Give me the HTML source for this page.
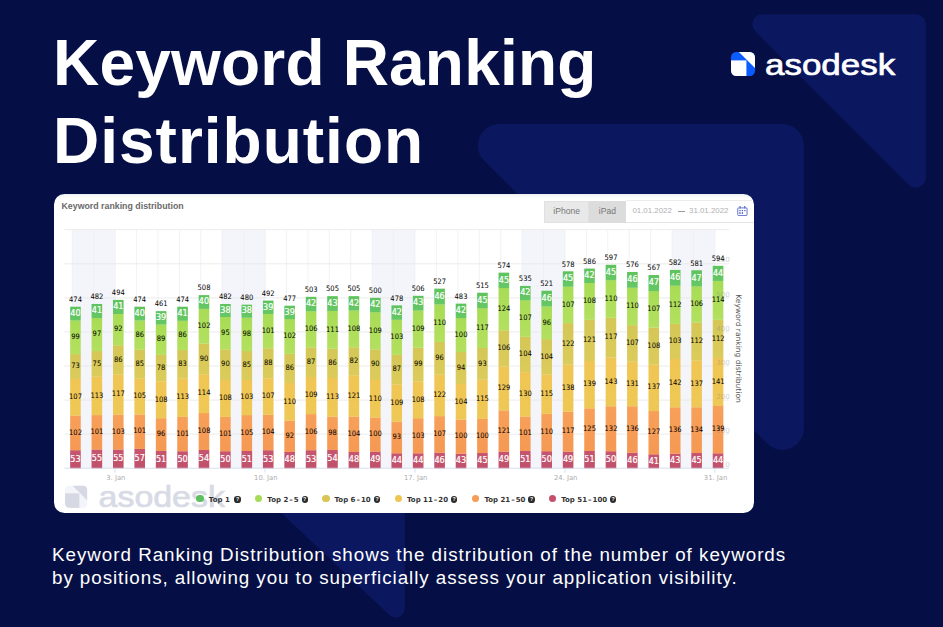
<!DOCTYPE html>
<html lang="en"><head><meta charset="utf-8"><title>Keyword Ranking Distribution</title>
<style>
html,body{margin:0;padding:0}
body{width:943px;height:627px;overflow:hidden;background:#050f45;position:relative;font-family:"Liberation Sans",Arial,sans-serif}
.bg{position:absolute;left:0;top:0}
h1{position:absolute;left:53px;top:23.5px;margin:0;font-size:64px;line-height:78px;font-weight:700;color:#fff;letter-spacing:.2px;white-space:nowrap}
h1 span{letter-spacing:1px}
.logo{position:absolute;left:730.6px;top:51.6px;width:24px;height:24px}
.brand{position:absolute;left:764.9px;top:41.5px;font-size:30.4px;line-height:44px;color:#fff;white-space:nowrap;-webkit-text-stroke:0.7px #fff;transform-origin:0 0;transform:scaleX(1.15)}
.card{position:absolute;left:54.4px;top:193.8px;width:699.4px;height:319.6px;background:linear-gradient(#eceef2 0,#f8f9fa 2px,#fff 5px);border-radius:10.5px}
.chart{position:absolute;left:0;top:0}
.ctitle{position:absolute;left:61.5px;top:200px;font-size:8.8px;line-height:12px;font-weight:700;color:#6a6a6a;white-space:nowrap}
.btns{position:absolute;left:544px;top:200.5px;height:22px;width:81.6px;background:#dcdcdc}
.b1{position:absolute;left:0;top:0;width:45.3px;height:22px;background:#e9e9e9;box-shadow:inset 0 0 0 1px #e1e1e1;}
.btns span{position:absolute;top:0;line-height:21.5px;font-size:8.6px;color:#777;text-align:center}
.dline{position:absolute;left:625.6px;top:222px;width:128.2px;height:1px;background:#e4e4e4}
.dline2{position:absolute;left:625.6px;top:200.2px;width:126.6px;height:1px;background:#ececec}
.date{position:absolute;top:205px;font-size:7.9px;line-height:12px;color:#b0b0b0;white-space:nowrap}
.cal{position:absolute;left:736.8px;top:205.6px;width:11px;height:10.4px}
.lb .k{fill:#000}
.lb .w{fill:#fff;font-weight:700;font-size:6.9px}
.wm{position:absolute;left:0;top:0}
.dot{position:absolute;top:494.6px;width:7.8px;height:7.8px;border-radius:50%}
.lt{position:absolute;top:493.7px;font-size:7px;line-height:12px;font-weight:700;color:#333;white-space:nowrap;font-family:"DejaVu Sans","Liberation Sans",sans-serif}
.lt i{font-style:normal;padding:0 1px}
.q{position:absolute;top:496.4px;width:6.2px;height:6.2px;border-radius:50%;background:#2b2b2b;color:#fff;font-size:5.2px;line-height:6.4px;text-align:center;font-weight:700}
.desc{position:absolute;left:52px;top:544.2px;margin:0;font-size:18.8px;line-height:22.4px;color:#fff;white-space:nowrap;letter-spacing:.98px}
.desc span{letter-spacing:.94px}
</style></head><body>
<svg class="bg" width="943" height="627" viewBox="0 0 943 627">
<g fill="#0b1860" stroke="#0b1860" stroke-linejoin="round">
<path stroke-width="20" d="M762.3 24.3 L915.8 24.3 L915.8 177.8 Z"/>
<path stroke-width="43" d="M499.4 145.5 L782.3 145.5 L782.3 428.4 Z"/>
<path stroke-width="18" d="M230 452 L395.8 452 L395.8 608.6 Z"/>
</g></svg>
<h1>Keyword Ranking<br><span>Distribution</span></h1>
<svg class="logo" viewBox="0 0 24 24"><defs><clipPath id="lc"><rect width="24" height="24" rx="5.2"/></clipPath></defs>
<g clip-path="url(#lc)"><rect width="24" height="24" fill="#0b5cff"/><rect x="0" y="8.4" width="15.4" height="15.6" fill="#fff"/><path d="M7.9 0H24V16.1Z" fill="#fff"/></g></svg>
<div class="brand">asodesk</div>
<div class="card"></div>
<svg class="wm" width="943" height="627" viewBox="0 0 943 627"><defs><clipPath id="wc"><rect x="65" y="485.5" width="22.4" height="22.4" rx="4.6"/></clipPath></defs>
<g clip-path="url(#wc)"><rect x="65" y="485.5" width="22.4" height="22.4" fill="#f3f5fb"/><rect x="65" y="493.3" width="14.4" height="14.6" fill="#d6d9e3"/><path d="M72.4 485.5H87.4V500.5Z" fill="#d6d9e3"/></g>
<text transform="translate(98.6,507) scale(1.13,1)" font-size="30" fill="#d8dbe5" font-family="Liberation Sans, Arial, sans-serif" stroke="#d8dbe5" stroke-width=".7">asodesk</text></svg>
<svg class="chart" width="943" height="627" viewBox="0 0 943 627">
<defs>
<linearGradient id="g0" x1="0" y1="0" x2="0" y2="1"><stop offset="0" stop-color="#c6556f"/><stop offset="1" stop-color="#c1506a"/></linearGradient>
<linearGradient id="g1" x1="0" y1="0" x2="0" y2="1"><stop offset="0" stop-color="#f7a059"/><stop offset="1" stop-color="#f59953"/></linearGradient>
<linearGradient id="g2" x1="0" y1="0" x2="0" y2="1"><stop offset="0" stop-color="#f0c553"/><stop offset="1" stop-color="#eec856"/></linearGradient>
<linearGradient id="g3" x1="0" y1="0" x2="0" y2="1"><stop offset="0" stop-color="#d4c756"/><stop offset="1" stop-color="#dbcb5b"/></linearGradient>
<linearGradient id="g4" x1="0" y1="0" x2="0" y2="1"><stop offset="0" stop-color="#a8dc55"/><stop offset="1" stop-color="#b3e05f"/></linearGradient>
<linearGradient id="g5" x1="0" y1="0" x2="0" y2="1"><stop offset="0" stop-color="#5ec35d"/><stop offset="1" stop-color="#66c765"/></linearGradient>
</defs>
<rect x="72.3" y="229.7" width="42.8" height="238.5" fill="#f4f5fa"/>
<rect x="222.2" y="229.7" width="42.8" height="238.5" fill="#f4f5fa"/>
<rect x="372.2" y="229.7" width="42.8" height="238.5" fill="#f4f5fa"/>
<rect x="522.1" y="229.7" width="42.8" height="238.5" fill="#f4f5fa"/>
<rect x="672.1" y="229.7" width="42.8" height="238.5" fill="#f4f5fa"/>
<line x1="72.3" y1="229.7" x2="72.3" y2="468.2" stroke="#ececf0" stroke-width="0.7"/>
<line x1="93.7" y1="229.7" x2="93.7" y2="468.2" stroke="#ececf0" stroke-width="0.7"/>
<line x1="115.1" y1="229.7" x2="115.1" y2="468.2" stroke="#ececf0" stroke-width="0.7"/>
<line x1="136.6" y1="229.7" x2="136.6" y2="468.2" stroke="#ececf0" stroke-width="0.7"/>
<line x1="158.0" y1="229.7" x2="158.0" y2="468.2" stroke="#ececf0" stroke-width="0.7"/>
<line x1="179.4" y1="229.7" x2="179.4" y2="468.2" stroke="#ececf0" stroke-width="0.7"/>
<line x1="200.8" y1="229.7" x2="200.8" y2="468.2" stroke="#ececf0" stroke-width="0.7"/>
<line x1="222.2" y1="229.7" x2="222.2" y2="468.2" stroke="#ececf0" stroke-width="0.7"/>
<line x1="243.7" y1="229.7" x2="243.7" y2="468.2" stroke="#ececf0" stroke-width="0.7"/>
<line x1="265.1" y1="229.7" x2="265.1" y2="468.2" stroke="#ececf0" stroke-width="0.7"/>
<line x1="286.5" y1="229.7" x2="286.5" y2="468.2" stroke="#ececf0" stroke-width="0.7"/>
<line x1="307.9" y1="229.7" x2="307.9" y2="468.2" stroke="#ececf0" stroke-width="0.7"/>
<line x1="329.3" y1="229.7" x2="329.3" y2="468.2" stroke="#ececf0" stroke-width="0.7"/>
<line x1="350.8" y1="229.7" x2="350.8" y2="468.2" stroke="#ececf0" stroke-width="0.7"/>
<line x1="372.2" y1="229.7" x2="372.2" y2="468.2" stroke="#ececf0" stroke-width="0.7"/>
<line x1="393.6" y1="229.7" x2="393.6" y2="468.2" stroke="#ececf0" stroke-width="0.7"/>
<line x1="415.0" y1="229.7" x2="415.0" y2="468.2" stroke="#ececf0" stroke-width="0.7"/>
<line x1="436.4" y1="229.7" x2="436.4" y2="468.2" stroke="#ececf0" stroke-width="0.7"/>
<line x1="457.9" y1="229.7" x2="457.9" y2="468.2" stroke="#ececf0" stroke-width="0.7"/>
<line x1="479.3" y1="229.7" x2="479.3" y2="468.2" stroke="#ececf0" stroke-width="0.7"/>
<line x1="500.7" y1="229.7" x2="500.7" y2="468.2" stroke="#ececf0" stroke-width="0.7"/>
<line x1="522.1" y1="229.7" x2="522.1" y2="468.2" stroke="#ececf0" stroke-width="0.7"/>
<line x1="543.5" y1="229.7" x2="543.5" y2="468.2" stroke="#ececf0" stroke-width="0.7"/>
<line x1="565.0" y1="229.7" x2="565.0" y2="468.2" stroke="#ececf0" stroke-width="0.7"/>
<line x1="586.4" y1="229.7" x2="586.4" y2="468.2" stroke="#ececf0" stroke-width="0.7"/>
<line x1="607.8" y1="229.7" x2="607.8" y2="468.2" stroke="#ececf0" stroke-width="0.7"/>
<line x1="629.2" y1="229.7" x2="629.2" y2="468.2" stroke="#ececf0" stroke-width="0.7"/>
<line x1="650.6" y1="229.7" x2="650.6" y2="468.2" stroke="#ececf0" stroke-width="0.7"/>
<line x1="672.1" y1="229.7" x2="672.1" y2="468.2" stroke="#ececf0" stroke-width="0.7"/>
<line x1="693.5" y1="229.7" x2="693.5" y2="468.2" stroke="#ececf0" stroke-width="0.7"/>
<line x1="714.9" y1="229.7" x2="714.9" y2="468.2" stroke="#ececf0" stroke-width="0.7"/>
<line x1="64.4" y1="434.1" x2="729.0" y2="434.1" stroke="#e6e6e6" stroke-width="0.8"/>
<line x1="64.4" y1="400.1" x2="729.0" y2="400.1" stroke="#e6e6e6" stroke-width="0.8"/>
<line x1="64.4" y1="366.0" x2="729.0" y2="366.0" stroke="#e6e6e6" stroke-width="0.8"/>
<line x1="64.4" y1="331.9" x2="729.0" y2="331.9" stroke="#e6e6e6" stroke-width="0.8"/>
<line x1="64.4" y1="297.9" x2="729.0" y2="297.9" stroke="#e6e6e6" stroke-width="0.8"/>
<line x1="64.4" y1="263.8" x2="729.0" y2="263.8" stroke="#e6e6e6" stroke-width="0.8"/>
<line x1="64.4" y1="229.7" x2="729.0" y2="229.7" stroke="#e6e6e6" stroke-width="0.8"/>
<rect x="70.15" y="450.14" width="10.6" height="18.21" fill="url(#g0)"/>
<rect x="70.15" y="415.39" width="10.6" height="34.90" fill="url(#g1)"/>
<rect x="70.15" y="378.94" width="10.6" height="36.60" fill="url(#g2)"/>
<rect x="70.15" y="354.07" width="10.6" height="25.02" fill="url(#g3)"/>
<rect x="70.15" y="320.34" width="10.6" height="33.88" fill="url(#g4)"/>
<rect x="70.15" y="306.71" width="10.6" height="13.78" fill="url(#g5)"/>
<rect x="91.57" y="449.46" width="10.6" height="18.89" fill="url(#g0)"/>
<rect x="91.57" y="415.05" width="10.6" height="34.56" fill="url(#g1)"/>
<rect x="91.57" y="376.55" width="10.6" height="38.65" fill="url(#g2)"/>
<rect x="91.57" y="351.00" width="10.6" height="25.70" fill="url(#g3)"/>
<rect x="91.57" y="317.95" width="10.6" height="33.20" fill="url(#g4)"/>
<rect x="91.57" y="303.98" width="10.6" height="14.12" fill="url(#g5)"/>
<rect x="112.99" y="449.46" width="10.6" height="18.89" fill="url(#g0)"/>
<rect x="112.99" y="414.37" width="10.6" height="35.24" fill="url(#g1)"/>
<rect x="112.99" y="374.51" width="10.6" height="40.01" fill="url(#g2)"/>
<rect x="112.99" y="345.21" width="10.6" height="29.45" fill="url(#g3)"/>
<rect x="112.99" y="313.86" width="10.6" height="31.49" fill="url(#g4)"/>
<rect x="112.99" y="299.89" width="10.6" height="14.12" fill="url(#g5)"/>
<rect x="134.41" y="448.78" width="10.6" height="19.57" fill="url(#g0)"/>
<rect x="134.41" y="414.37" width="10.6" height="34.56" fill="url(#g1)"/>
<rect x="134.41" y="378.60" width="10.6" height="35.92" fill="url(#g2)"/>
<rect x="134.41" y="349.64" width="10.6" height="29.11" fill="url(#g3)"/>
<rect x="134.41" y="320.34" width="10.6" height="29.45" fill="url(#g4)"/>
<rect x="134.41" y="306.71" width="10.6" height="13.78" fill="url(#g5)"/>
<rect x="155.83" y="450.82" width="10.6" height="17.53" fill="url(#g0)"/>
<rect x="155.83" y="418.12" width="10.6" height="32.86" fill="url(#g1)"/>
<rect x="155.83" y="381.32" width="10.6" height="36.95" fill="url(#g2)"/>
<rect x="155.83" y="354.75" width="10.6" height="26.72" fill="url(#g3)"/>
<rect x="155.83" y="324.42" width="10.6" height="30.47" fill="url(#g4)"/>
<rect x="155.83" y="311.14" width="10.6" height="13.44" fill="url(#g5)"/>
<rect x="177.25" y="451.16" width="10.6" height="17.18" fill="url(#g0)"/>
<rect x="177.25" y="416.75" width="10.6" height="34.56" fill="url(#g1)"/>
<rect x="177.25" y="378.26" width="10.6" height="38.65" fill="url(#g2)"/>
<rect x="177.25" y="349.98" width="10.6" height="28.43" fill="url(#g3)"/>
<rect x="177.25" y="320.68" width="10.6" height="29.45" fill="url(#g4)"/>
<rect x="177.25" y="306.71" width="10.6" height="14.12" fill="url(#g5)"/>
<rect x="198.67" y="449.80" width="10.6" height="18.55" fill="url(#g0)"/>
<rect x="198.67" y="413.01" width="10.6" height="36.95" fill="url(#g1)"/>
<rect x="198.67" y="374.17" width="10.6" height="38.99" fill="url(#g2)"/>
<rect x="198.67" y="343.50" width="10.6" height="30.81" fill="url(#g3)"/>
<rect x="198.67" y="308.75" width="10.6" height="34.90" fill="url(#g4)"/>
<rect x="198.67" y="295.12" width="10.6" height="13.78" fill="url(#g5)"/>
<rect x="220.09" y="451.16" width="10.6" height="17.18" fill="url(#g0)"/>
<rect x="220.09" y="416.75" width="10.6" height="34.56" fill="url(#g1)"/>
<rect x="220.09" y="379.96" width="10.6" height="36.95" fill="url(#g2)"/>
<rect x="220.09" y="349.30" width="10.6" height="30.81" fill="url(#g3)"/>
<rect x="220.09" y="316.93" width="10.6" height="32.52" fill="url(#g4)"/>
<rect x="220.09" y="303.98" width="10.6" height="13.10" fill="url(#g5)"/>
<rect x="241.51" y="450.82" width="10.6" height="17.53" fill="url(#g0)"/>
<rect x="241.51" y="415.05" width="10.6" height="35.92" fill="url(#g1)"/>
<rect x="241.51" y="379.96" width="10.6" height="35.24" fill="url(#g2)"/>
<rect x="241.51" y="351.00" width="10.6" height="29.11" fill="url(#g3)"/>
<rect x="241.51" y="317.61" width="10.6" height="33.54" fill="url(#g4)"/>
<rect x="241.51" y="304.66" width="10.6" height="13.10" fill="url(#g5)"/>
<rect x="262.93" y="450.14" width="10.6" height="18.21" fill="url(#g0)"/>
<rect x="262.93" y="414.71" width="10.6" height="35.58" fill="url(#g1)"/>
<rect x="262.93" y="378.26" width="10.6" height="36.60" fill="url(#g2)"/>
<rect x="262.93" y="348.27" width="10.6" height="30.13" fill="url(#g3)"/>
<rect x="262.93" y="313.86" width="10.6" height="34.56" fill="url(#g4)"/>
<rect x="262.93" y="300.58" width="10.6" height="13.44" fill="url(#g5)"/>
<rect x="284.35" y="451.85" width="10.6" height="16.50" fill="url(#g0)"/>
<rect x="284.35" y="420.50" width="10.6" height="31.49" fill="url(#g1)"/>
<rect x="284.35" y="383.02" width="10.6" height="37.63" fill="url(#g2)"/>
<rect x="284.35" y="353.72" width="10.6" height="29.45" fill="url(#g3)"/>
<rect x="284.35" y="318.97" width="10.6" height="34.90" fill="url(#g4)"/>
<rect x="284.35" y="305.69" width="10.6" height="13.44" fill="url(#g5)"/>
<rect x="305.77" y="450.14" width="10.6" height="18.21" fill="url(#g0)"/>
<rect x="305.77" y="414.03" width="10.6" height="36.26" fill="url(#g1)"/>
<rect x="305.77" y="376.89" width="10.6" height="37.29" fill="url(#g2)"/>
<rect x="305.77" y="347.25" width="10.6" height="29.79" fill="url(#g3)"/>
<rect x="305.77" y="311.14" width="10.6" height="36.26" fill="url(#g4)"/>
<rect x="305.77" y="296.83" width="10.6" height="14.46" fill="url(#g5)"/>
<rect x="327.19" y="449.80" width="10.6" height="18.55" fill="url(#g0)"/>
<rect x="327.19" y="416.41" width="10.6" height="33.54" fill="url(#g1)"/>
<rect x="327.19" y="377.91" width="10.6" height="38.65" fill="url(#g2)"/>
<rect x="327.19" y="348.61" width="10.6" height="29.45" fill="url(#g3)"/>
<rect x="327.19" y="310.80" width="10.6" height="37.97" fill="url(#g4)"/>
<rect x="327.19" y="296.15" width="10.6" height="14.80" fill="url(#g5)"/>
<rect x="348.61" y="451.85" width="10.6" height="16.50" fill="url(#g0)"/>
<rect x="348.61" y="416.41" width="10.6" height="35.58" fill="url(#g1)"/>
<rect x="348.61" y="375.19" width="10.6" height="41.37" fill="url(#g2)"/>
<rect x="348.61" y="347.25" width="10.6" height="28.09" fill="url(#g3)"/>
<rect x="348.61" y="310.46" width="10.6" height="36.95" fill="url(#g4)"/>
<rect x="348.61" y="296.15" width="10.6" height="14.46" fill="url(#g5)"/>
<rect x="370.03" y="451.51" width="10.6" height="16.84" fill="url(#g0)"/>
<rect x="370.03" y="417.44" width="10.6" height="34.22" fill="url(#g1)"/>
<rect x="370.03" y="379.96" width="10.6" height="37.63" fill="url(#g2)"/>
<rect x="370.03" y="349.30" width="10.6" height="30.81" fill="url(#g3)"/>
<rect x="370.03" y="312.16" width="10.6" height="37.29" fill="url(#g4)"/>
<rect x="370.03" y="297.85" width="10.6" height="14.46" fill="url(#g5)"/>
<rect x="391.45" y="453.21" width="10.6" height="15.14" fill="url(#g0)"/>
<rect x="391.45" y="421.52" width="10.6" height="31.84" fill="url(#g1)"/>
<rect x="391.45" y="384.39" width="10.6" height="37.29" fill="url(#g2)"/>
<rect x="391.45" y="354.75" width="10.6" height="29.79" fill="url(#g3)"/>
<rect x="391.45" y="319.65" width="10.6" height="35.24" fill="url(#g4)"/>
<rect x="391.45" y="305.35" width="10.6" height="14.46" fill="url(#g5)"/>
<rect x="412.87" y="453.21" width="10.6" height="15.14" fill="url(#g0)"/>
<rect x="412.87" y="418.12" width="10.6" height="35.24" fill="url(#g1)"/>
<rect x="412.87" y="381.32" width="10.6" height="36.95" fill="url(#g2)"/>
<rect x="412.87" y="347.59" width="10.6" height="33.88" fill="url(#g3)"/>
<rect x="412.87" y="310.46" width="10.6" height="37.29" fill="url(#g4)"/>
<rect x="412.87" y="295.81" width="10.6" height="14.80" fill="url(#g5)"/>
<rect x="434.29" y="452.53" width="10.6" height="15.82" fill="url(#g0)"/>
<rect x="434.29" y="416.07" width="10.6" height="36.60" fill="url(#g1)"/>
<rect x="434.29" y="374.51" width="10.6" height="41.72" fill="url(#g2)"/>
<rect x="434.29" y="341.80" width="10.6" height="32.86" fill="url(#g3)"/>
<rect x="434.29" y="304.32" width="10.6" height="37.63" fill="url(#g4)"/>
<rect x="434.29" y="288.65" width="10.6" height="15.82" fill="url(#g5)"/>
<rect x="455.71" y="453.55" width="10.6" height="14.80" fill="url(#g0)"/>
<rect x="455.71" y="419.48" width="10.6" height="34.22" fill="url(#g1)"/>
<rect x="455.71" y="384.05" width="10.6" height="35.58" fill="url(#g2)"/>
<rect x="455.71" y="352.02" width="10.6" height="32.18" fill="url(#g3)"/>
<rect x="455.71" y="317.95" width="10.6" height="34.22" fill="url(#g4)"/>
<rect x="455.71" y="303.64" width="10.6" height="14.46" fill="url(#g5)"/>
<rect x="477.13" y="452.87" width="10.6" height="15.48" fill="url(#g0)"/>
<rect x="477.13" y="418.80" width="10.6" height="34.22" fill="url(#g1)"/>
<rect x="477.13" y="379.62" width="10.6" height="39.33" fill="url(#g2)"/>
<rect x="477.13" y="347.93" width="10.6" height="31.84" fill="url(#g3)"/>
<rect x="477.13" y="308.07" width="10.6" height="40.01" fill="url(#g4)"/>
<rect x="477.13" y="292.74" width="10.6" height="15.48" fill="url(#g5)"/>
<rect x="498.55" y="451.51" width="10.6" height="16.84" fill="url(#g0)"/>
<rect x="498.55" y="410.28" width="10.6" height="41.37" fill="url(#g1)"/>
<rect x="498.55" y="366.33" width="10.6" height="44.10" fill="url(#g2)"/>
<rect x="498.55" y="330.22" width="10.6" height="36.26" fill="url(#g3)"/>
<rect x="498.55" y="287.97" width="10.6" height="42.40" fill="url(#g4)"/>
<rect x="498.55" y="272.64" width="10.6" height="15.48" fill="url(#g5)"/>
<rect x="519.97" y="450.82" width="10.6" height="17.53" fill="url(#g0)"/>
<rect x="519.97" y="416.41" width="10.6" height="34.56" fill="url(#g1)"/>
<rect x="519.97" y="372.12" width="10.6" height="44.44" fill="url(#g2)"/>
<rect x="519.97" y="336.69" width="10.6" height="35.58" fill="url(#g3)"/>
<rect x="519.97" y="300.23" width="10.6" height="36.60" fill="url(#g4)"/>
<rect x="519.97" y="285.93" width="10.6" height="14.46" fill="url(#g5)"/>
<rect x="541.39" y="451.16" width="10.6" height="17.18" fill="url(#g0)"/>
<rect x="541.39" y="413.69" width="10.6" height="37.63" fill="url(#g1)"/>
<rect x="541.39" y="374.51" width="10.6" height="39.33" fill="url(#g2)"/>
<rect x="541.39" y="339.07" width="10.6" height="35.58" fill="url(#g3)"/>
<rect x="541.39" y="306.37" width="10.6" height="32.86" fill="url(#g4)"/>
<rect x="541.39" y="290.70" width="10.6" height="15.82" fill="url(#g5)"/>
<rect x="562.81" y="451.51" width="10.6" height="16.84" fill="url(#g0)"/>
<rect x="562.81" y="411.64" width="10.6" height="40.01" fill="url(#g1)"/>
<rect x="562.81" y="364.63" width="10.6" height="47.17" fill="url(#g2)"/>
<rect x="562.81" y="323.06" width="10.6" height="41.72" fill="url(#g3)"/>
<rect x="562.81" y="286.61" width="10.6" height="36.60" fill="url(#g4)"/>
<rect x="562.81" y="271.28" width="10.6" height="15.48" fill="url(#g5)"/>
<rect x="584.23" y="450.82" width="10.6" height="17.53" fill="url(#g0)"/>
<rect x="584.23" y="408.24" width="10.6" height="42.74" fill="url(#g1)"/>
<rect x="584.23" y="360.88" width="10.6" height="47.51" fill="url(#g2)"/>
<rect x="584.23" y="319.65" width="10.6" height="41.37" fill="url(#g3)"/>
<rect x="584.23" y="282.86" width="10.6" height="36.95" fill="url(#g4)"/>
<rect x="584.23" y="268.55" width="10.6" height="14.46" fill="url(#g5)"/>
<rect x="605.65" y="451.16" width="10.6" height="17.18" fill="url(#g0)"/>
<rect x="605.65" y="406.19" width="10.6" height="45.12" fill="url(#g1)"/>
<rect x="605.65" y="357.47" width="10.6" height="48.87" fill="url(#g2)"/>
<rect x="605.65" y="317.61" width="10.6" height="40.01" fill="url(#g3)"/>
<rect x="605.65" y="280.13" width="10.6" height="37.63" fill="url(#g4)"/>
<rect x="605.65" y="264.80" width="10.6" height="15.48" fill="url(#g5)"/>
<rect x="627.07" y="452.53" width="10.6" height="15.82" fill="url(#g0)"/>
<rect x="627.07" y="406.19" width="10.6" height="46.49" fill="url(#g1)"/>
<rect x="627.07" y="361.56" width="10.6" height="44.78" fill="url(#g2)"/>
<rect x="627.07" y="325.11" width="10.6" height="36.60" fill="url(#g3)"/>
<rect x="627.07" y="287.63" width="10.6" height="37.63" fill="url(#g4)"/>
<rect x="627.07" y="271.96" width="10.6" height="15.82" fill="url(#g5)"/>
<rect x="648.49" y="454.23" width="10.6" height="14.12" fill="url(#g0)"/>
<rect x="648.49" y="410.96" width="10.6" height="43.42" fill="url(#g1)"/>
<rect x="648.49" y="364.29" width="10.6" height="46.83" fill="url(#g2)"/>
<rect x="648.49" y="327.49" width="10.6" height="36.95" fill="url(#g3)"/>
<rect x="648.49" y="291.04" width="10.6" height="36.60" fill="url(#g4)"/>
<rect x="648.49" y="275.02" width="10.6" height="16.16" fill="url(#g5)"/>
<rect x="669.91" y="453.55" width="10.6" height="14.80" fill="url(#g0)"/>
<rect x="669.91" y="407.21" width="10.6" height="46.49" fill="url(#g1)"/>
<rect x="669.91" y="358.84" width="10.6" height="48.53" fill="url(#g2)"/>
<rect x="669.91" y="323.74" width="10.6" height="35.24" fill="url(#g3)"/>
<rect x="669.91" y="285.58" width="10.6" height="38.31" fill="url(#g4)"/>
<rect x="669.91" y="269.91" width="10.6" height="15.82" fill="url(#g5)"/>
<rect x="691.33" y="452.87" width="10.6" height="15.48" fill="url(#g0)"/>
<rect x="691.33" y="407.21" width="10.6" height="45.80" fill="url(#g1)"/>
<rect x="691.33" y="360.54" width="10.6" height="46.83" fill="url(#g2)"/>
<rect x="691.33" y="322.38" width="10.6" height="38.31" fill="url(#g3)"/>
<rect x="691.33" y="286.27" width="10.6" height="36.26" fill="url(#g4)"/>
<rect x="691.33" y="270.25" width="10.6" height="16.16" fill="url(#g5)"/>
<rect x="712.75" y="453.21" width="10.6" height="15.14" fill="url(#g0)"/>
<rect x="712.75" y="405.85" width="10.6" height="47.51" fill="url(#g1)"/>
<rect x="712.75" y="357.81" width="10.6" height="48.19" fill="url(#g2)"/>
<rect x="712.75" y="319.65" width="10.6" height="38.31" fill="url(#g3)"/>
<rect x="712.75" y="280.82" width="10.6" height="38.99" fill="url(#g4)"/>
<rect x="712.75" y="265.82" width="10.6" height="15.14" fill="url(#g5)"/>
<line x1="64.4" y1="468.2" x2="729.0" y2="468.2" stroke="#ccd6eb" stroke-width="0.8"/>
<line x1="115.1" y1="468.2" x2="115.1" y2="472.7" stroke="#ccd6eb" stroke-width="0.8"/>
<line x1="265.1" y1="468.2" x2="265.1" y2="472.7" stroke="#ccd6eb" stroke-width="0.8"/>
<line x1="415.0" y1="468.2" x2="415.0" y2="472.7" stroke="#ccd6eb" stroke-width="0.8"/>
<line x1="565.0" y1="468.2" x2="565.0" y2="472.7" stroke="#ccd6eb" stroke-width="0.8"/>
<line x1="714.9" y1="468.2" x2="714.9" y2="472.7" stroke="#ccd6eb" stroke-width="0.8"/>
<g font-size="6.8" fill="#adadad" text-anchor="middle" font-family="DejaVu Sans, Liberation Sans, sans-serif">
<text x="115.8" y="480.2">3. Jan</text>
<text x="265.8" y="480.2">10. Jan</text>
<text x="415.7" y="480.2">17. Jan</text>
<text x="565.7" y="480.2">24. Jan</text>
<text x="715.6" y="480.2">31. Jan</text>
</g>
<g font-size="7.2" fill="#8a8a8a" fill-opacity=".45" text-anchor="end" font-family="DejaVu Sans, Liberation Sans, sans-serif">
<text x="729.9" y="466.8">0</text>
<text x="729.9" y="432.7">100</text>
<text x="729.9" y="398.7">200</text>
<text x="729.9" y="364.6">300</text>
<text x="729.9" y="330.5">400</text>
<text x="729.9" y="296.5">500</text>
<text x="729.9" y="262.4">600</text>
</g>
<clipPath id="bc">
<rect x="70.15" y="229.7" width="10.6" height="238.5"/>
<rect x="91.57" y="229.7" width="10.6" height="238.5"/>
<rect x="112.99" y="229.7" width="10.6" height="238.5"/>
<rect x="134.41" y="229.7" width="10.6" height="238.5"/>
<rect x="155.83" y="229.7" width="10.6" height="238.5"/>
<rect x="177.25" y="229.7" width="10.6" height="238.5"/>
<rect x="198.67" y="229.7" width="10.6" height="238.5"/>
<rect x="220.09" y="229.7" width="10.6" height="238.5"/>
<rect x="241.51" y="229.7" width="10.6" height="238.5"/>
<rect x="262.93" y="229.7" width="10.6" height="238.5"/>
<rect x="284.35" y="229.7" width="10.6" height="238.5"/>
<rect x="305.77" y="229.7" width="10.6" height="238.5"/>
<rect x="327.19" y="229.7" width="10.6" height="238.5"/>
<rect x="348.61" y="229.7" width="10.6" height="238.5"/>
<rect x="370.03" y="229.7" width="10.6" height="238.5"/>
<rect x="391.45" y="229.7" width="10.6" height="238.5"/>
<rect x="412.87" y="229.7" width="10.6" height="238.5"/>
<rect x="434.29" y="229.7" width="10.6" height="238.5"/>
<rect x="455.71" y="229.7" width="10.6" height="238.5"/>
<rect x="477.13" y="229.7" width="10.6" height="238.5"/>
<rect x="498.55" y="229.7" width="10.6" height="238.5"/>
<rect x="519.97" y="229.7" width="10.6" height="238.5"/>
<rect x="541.39" y="229.7" width="10.6" height="238.5"/>
<rect x="562.81" y="229.7" width="10.6" height="238.5"/>
<rect x="584.23" y="229.7" width="10.6" height="238.5"/>
<rect x="605.65" y="229.7" width="10.6" height="238.5"/>
<rect x="627.07" y="229.7" width="10.6" height="238.5"/>
<rect x="648.49" y="229.7" width="10.6" height="238.5"/>
<rect x="669.91" y="229.7" width="10.6" height="238.5"/>
<rect x="691.33" y="229.7" width="10.6" height="238.5"/>
<rect x="712.75" y="229.7" width="10.6" height="238.5"/>
</clipPath>
<g font-size="7.5" text-anchor="middle" class="lb" font-family="DejaVu Sans, Liberation Sans, sans-serif">
<text class="k" transform="translate(75.5,434.6) scale(.9,1)">102</text>
<text class="k" transform="translate(75.5,399.0) scale(.9,1)">107</text>
<text class="k" transform="translate(75.5,368.3) scale(.9,1)">73</text>
<text class="k" transform="translate(75.5,339.0) scale(.9,1)">99</text>
<text class="k" transform="translate(75.5,302.0) scale(.9,1)">474</text>
<text class="k" transform="translate(96.9,434.1) scale(.9,1)">101</text>
<text class="k" transform="translate(96.9,397.6) scale(.9,1)">113</text>
<text class="k" transform="translate(96.9,365.6) scale(.9,1)">75</text>
<text class="k" transform="translate(96.9,336.3) scale(.9,1)">97</text>
<text class="k" transform="translate(96.9,299.3) scale(.9,1)">482</text>
<text class="k" transform="translate(118.3,433.7) scale(.9,1)">103</text>
<text class="k" transform="translate(118.3,396.2) scale(.9,1)">117</text>
<text class="k" transform="translate(118.3,361.7) scale(.9,1)">86</text>
<text class="k" transform="translate(118.3,331.3) scale(.9,1)">92</text>
<text class="k" transform="translate(118.3,295.2) scale(.9,1)">494</text>
<text class="k" transform="translate(139.7,433.4) scale(.9,1)">101</text>
<text class="k" transform="translate(139.7,398.3) scale(.9,1)">105</text>
<text class="k" transform="translate(139.7,365.9) scale(.9,1)">85</text>
<text class="k" transform="translate(139.7,336.8) scale(.9,1)">86</text>
<text class="k" transform="translate(139.7,302.0) scale(.9,1)">474</text>
<text class="k" transform="translate(161.1,436.3) scale(.9,1)">96</text>
<text class="k" transform="translate(161.1,401.5) scale(.9,1)">108</text>
<text class="k" transform="translate(161.1,369.8) scale(.9,1)">78</text>
<text class="k" transform="translate(161.1,341.4) scale(.9,1)">89</text>
<text class="k" transform="translate(161.1,306.4) scale(.9,1)">461</text>
<text class="k" transform="translate(182.6,435.8) scale(.9,1)">101</text>
<text class="k" transform="translate(182.6,399.3) scale(.9,1)">113</text>
<text class="k" transform="translate(182.6,365.9) scale(.9,1)">83</text>
<text class="k" transform="translate(182.6,337.1) scale(.9,1)">86</text>
<text class="k" transform="translate(182.6,302.0) scale(.9,1)">474</text>
<text class="k" transform="translate(204.0,433.2) scale(.9,1)">108</text>
<text class="k" transform="translate(204.0,395.4) scale(.9,1)">114</text>
<text class="k" transform="translate(204.0,360.6) scale(.9,1)">90</text>
<text class="k" transform="translate(204.0,327.9) scale(.9,1)">102</text>
<text class="k" transform="translate(204.0,290.4) scale(.9,1)">508</text>
<text class="k" transform="translate(225.4,435.8) scale(.9,1)">101</text>
<text class="k" transform="translate(225.4,400.2) scale(.9,1)">108</text>
<text class="k" transform="translate(225.4,366.4) scale(.9,1)">90</text>
<text class="k" transform="translate(225.4,334.9) scale(.9,1)">95</text>
<text class="k" transform="translate(225.4,299.3) scale(.9,1)">482</text>
<text class="k" transform="translate(246.8,434.7) scale(.9,1)">105</text>
<text class="k" transform="translate(246.8,399.3) scale(.9,1)">103</text>
<text class="k" transform="translate(246.8,367.3) scale(.9,1)">85</text>
<text class="k" transform="translate(246.8,336.1) scale(.9,1)">98</text>
<text class="k" transform="translate(246.8,300.0) scale(.9,1)">480</text>
<text class="k" transform="translate(268.2,434.2) scale(.9,1)">104</text>
<text class="k" transform="translate(268.2,398.3) scale(.9,1)">107</text>
<text class="k" transform="translate(268.2,365.1) scale(.9,1)">88</text>
<text class="k" transform="translate(268.2,332.9) scale(.9,1)">101</text>
<text class="k" transform="translate(268.2,295.9) scale(.9,1)">492</text>
<text class="k" transform="translate(289.7,438.0) scale(.9,1)">92</text>
<text class="k" transform="translate(289.7,403.6) scale(.9,1)">110</text>
<text class="k" transform="translate(289.7,370.2) scale(.9,1)">86</text>
<text class="k" transform="translate(289.7,338.1) scale(.9,1)">102</text>
<text class="k" transform="translate(289.7,301.0) scale(.9,1)">477</text>
<text class="k" transform="translate(311.1,433.9) scale(.9,1)">106</text>
<text class="k" transform="translate(311.1,397.3) scale(.9,1)">109</text>
<text class="k" transform="translate(311.1,363.9) scale(.9,1)">87</text>
<text class="k" transform="translate(311.1,331.0) scale(.9,1)">106</text>
<text class="k" transform="translate(311.1,292.1) scale(.9,1)">503</text>
<text class="k" transform="translate(332.5,434.9) scale(.9,1)">98</text>
<text class="k" transform="translate(332.5,399.0) scale(.9,1)">113</text>
<text class="k" transform="translate(332.5,365.1) scale(.9,1)">86</text>
<text class="k" transform="translate(332.5,331.5) scale(.9,1)">111</text>
<text class="k" transform="translate(332.5,291.4) scale(.9,1)">505</text>
<text class="k" transform="translate(353.9,435.9) scale(.9,1)">104</text>
<text class="k" transform="translate(353.9,397.6) scale(.9,1)">121</text>
<text class="k" transform="translate(353.9,363.0) scale(.9,1)">82</text>
<text class="k" transform="translate(353.9,330.7) scale(.9,1)">108</text>
<text class="k" transform="translate(353.9,291.4) scale(.9,1)">505</text>
<text class="k" transform="translate(375.3,436.3) scale(.9,1)">100</text>
<text class="k" transform="translate(375.3,400.5) scale(.9,1)">110</text>
<text class="k" transform="translate(375.3,366.4) scale(.9,1)">90</text>
<text class="k" transform="translate(375.3,332.5) scale(.9,1)">109</text>
<text class="k" transform="translate(375.3,293.2) scale(.9,1)">500</text>
<text class="k" transform="translate(396.8,439.2) scale(.9,1)">93</text>
<text class="k" transform="translate(396.8,404.8) scale(.9,1)">109</text>
<text class="k" transform="translate(396.8,371.4) scale(.9,1)">87</text>
<text class="k" transform="translate(396.8,339.0) scale(.9,1)">103</text>
<text class="k" transform="translate(396.8,300.6) scale(.9,1)">478</text>
<text class="k" transform="translate(418.2,437.5) scale(.9,1)">103</text>
<text class="k" transform="translate(418.2,401.5) scale(.9,1)">108</text>
<text class="k" transform="translate(418.2,366.3) scale(.9,1)">99</text>
<text class="k" transform="translate(418.2,330.8) scale(.9,1)">109</text>
<text class="k" transform="translate(418.2,291.1) scale(.9,1)">506</text>
<text class="k" transform="translate(439.6,436.1) scale(.9,1)">107</text>
<text class="k" transform="translate(439.6,397.1) scale(.9,1)">122</text>
<text class="k" transform="translate(439.6,360.0) scale(.9,1)">96</text>
<text class="k" transform="translate(439.6,324.9) scale(.9,1)">110</text>
<text class="k" transform="translate(439.6,284.0) scale(.9,1)">527</text>
<text class="k" transform="translate(461.0,438.3) scale(.9,1)">100</text>
<text class="k" transform="translate(461.0,403.6) scale(.9,1)">104</text>
<text class="k" transform="translate(461.0,369.8) scale(.9,1)">94</text>
<text class="k" transform="translate(461.0,336.8) scale(.9,1)">100</text>
<text class="k" transform="translate(461.0,298.9) scale(.9,1)">483</text>
<text class="k" transform="translate(482.4,437.6) scale(.9,1)">100</text>
<text class="k" transform="translate(482.4,401.0) scale(.9,1)">115</text>
<text class="k" transform="translate(482.4,365.6) scale(.9,1)">93</text>
<text class="k" transform="translate(482.4,329.8) scale(.9,1)">117</text>
<text class="k" transform="translate(482.4,288.0) scale(.9,1)">515</text>
<text class="k" transform="translate(503.9,432.7) scale(.9,1)">121</text>
<text class="k" transform="translate(503.9,390.1) scale(.9,1)">129</text>
<text class="k" transform="translate(503.9,350.1) scale(.9,1)">106</text>
<text class="k" transform="translate(503.9,310.9) scale(.9,1)">124</text>
<text class="k" transform="translate(503.9,267.9) scale(.9,1)">574</text>
<text class="k" transform="translate(525.3,435.4) scale(.9,1)">101</text>
<text class="k" transform="translate(525.3,396.1) scale(.9,1)">130</text>
<text class="k" transform="translate(525.3,356.2) scale(.9,1)">104</text>
<text class="k" transform="translate(525.3,320.3) scale(.9,1)">107</text>
<text class="k" transform="translate(525.3,281.2) scale(.9,1)">535</text>
<text class="k" transform="translate(546.7,434.2) scale(.9,1)">110</text>
<text class="k" transform="translate(546.7,395.9) scale(.9,1)">115</text>
<text class="k" transform="translate(546.7,358.6) scale(.9,1)">104</text>
<text class="k" transform="translate(546.7,324.5) scale(.9,1)">96</text>
<text class="k" transform="translate(546.7,286.0) scale(.9,1)">521</text>
<text class="k" transform="translate(568.1,433.4) scale(.9,1)">117</text>
<text class="k" transform="translate(568.1,389.9) scale(.9,1)">138</text>
<text class="k" transform="translate(568.1,345.6) scale(.9,1)">122</text>
<text class="k" transform="translate(568.1,306.6) scale(.9,1)">107</text>
<text class="k" transform="translate(568.1,266.6) scale(.9,1)">578</text>
<text class="k" transform="translate(589.5,431.3) scale(.9,1)">125</text>
<text class="k" transform="translate(589.5,386.4) scale(.9,1)">139</text>
<text class="k" transform="translate(589.5,342.1) scale(.9,1)">121</text>
<text class="k" transform="translate(589.5,303.1) scale(.9,1)">108</text>
<text class="k" transform="translate(589.5,263.8) scale(.9,1)">586</text>
<text class="k" transform="translate(611.0,430.5) scale(.9,1)">132</text>
<text class="k" transform="translate(611.0,383.6) scale(.9,1)">143</text>
<text class="k" transform="translate(611.0,339.3) scale(.9,1)">117</text>
<text class="k" transform="translate(611.0,300.7) scale(.9,1)">110</text>
<text class="k" transform="translate(611.0,260.1) scale(.9,1)">597</text>
<text class="k" transform="translate(632.4,431.2) scale(.9,1)">136</text>
<text class="k" transform="translate(632.4,385.7) scale(.9,1)">131</text>
<text class="k" transform="translate(632.4,345.1) scale(.9,1)">107</text>
<text class="k" transform="translate(632.4,308.2) scale(.9,1)">110</text>
<text class="k" transform="translate(632.4,267.3) scale(.9,1)">576</text>
<text class="k" transform="translate(653.8,434.4) scale(.9,1)">127</text>
<text class="k" transform="translate(653.8,389.4) scale(.9,1)">137</text>
<text class="k" transform="translate(653.8,347.7) scale(.9,1)">108</text>
<text class="k" transform="translate(653.8,311.1) scale(.9,1)">107</text>
<text class="k" transform="translate(653.8,270.3) scale(.9,1)">567</text>
<text class="k" transform="translate(675.2,432.2) scale(.9,1)">136</text>
<text class="k" transform="translate(675.2,384.8) scale(.9,1)">142</text>
<text class="k" transform="translate(675.2,343.1) scale(.9,1)">103</text>
<text class="k" transform="translate(675.2,306.5) scale(.9,1)">112</text>
<text class="k" transform="translate(675.2,265.2) scale(.9,1)">582</text>
<text class="k" transform="translate(696.6,431.8) scale(.9,1)">134</text>
<text class="k" transform="translate(696.6,385.7) scale(.9,1)">137</text>
<text class="k" transform="translate(696.6,343.3) scale(.9,1)">112</text>
<text class="k" transform="translate(696.6,306.1) scale(.9,1)">106</text>
<text class="k" transform="translate(696.6,265.6) scale(.9,1)">581</text>
<text class="k" transform="translate(718.1,431.3) scale(.9,1)">139</text>
<text class="k" transform="translate(718.1,383.6) scale(.9,1)">141</text>
<text class="k" transform="translate(718.1,340.5) scale(.9,1)">112</text>
<text class="k" transform="translate(718.1,302.0) scale(.9,1)">114</text>
<text class="k" transform="translate(718.1,261.1) scale(.9,1)">594</text>
</g>
<g font-size="8.1" fill="#fff" stroke="#fff" stroke-width=".2" text-anchor="middle" clip-path="url(#bc)" font-family="DejaVu Sans, Liberation Sans, sans-serif">
<text x="75.5" y="461.5">53</text>
<text x="75.5" y="315.8">40</text>
<text x="96.9" y="461.1">55</text>
<text x="96.9" y="313.3">41</text>
<text x="118.3" y="461.1">55</text>
<text x="118.3" y="309.2">41</text>
<text x="139.7" y="460.8">57</text>
<text x="139.7" y="315.8">40</text>
<text x="161.1" y="461.8">51</text>
<text x="161.1" y="320.1">39</text>
<text x="182.6" y="462.0">50</text>
<text x="182.6" y="316.0">41</text>
<text x="204.0" y="461.3">54</text>
<text x="204.0" y="304.2">40</text>
<text x="225.4" y="462.0">50</text>
<text x="225.4" y="312.8">38</text>
<text x="246.8" y="461.8">51</text>
<text x="246.8" y="313.4">38</text>
<text x="268.2" y="461.5">53</text>
<text x="268.2" y="309.5">39</text>
<text x="289.7" y="462.3">48</text>
<text x="289.7" y="314.6">39</text>
<text x="311.1" y="461.5">53</text>
<text x="311.1" y="306.3">42</text>
<text x="332.5" y="461.3">54</text>
<text x="332.5" y="305.8">43</text>
<text x="353.9" y="462.3">48</text>
<text x="353.9" y="305.6">42</text>
<text x="375.3" y="462.2">49</text>
<text x="375.3" y="307.3">42</text>
<text x="396.8" y="463.0">44</text>
<text x="396.8" y="314.8">42</text>
<text x="418.2" y="463.0">44</text>
<text x="418.2" y="305.4">43</text>
<text x="439.6" y="462.7">46</text>
<text x="439.6" y="298.8">46</text>
<text x="461.0" y="463.2">43</text>
<text x="461.0" y="313.1">42</text>
<text x="482.4" y="462.8">45</text>
<text x="482.4" y="302.7">45</text>
<text x="503.9" y="462.2">49</text>
<text x="503.9" y="282.6">45</text>
<text x="525.3" y="461.8">51</text>
<text x="525.3" y="295.4">42</text>
<text x="546.7" y="462.0">50</text>
<text x="546.7" y="300.8">46</text>
<text x="568.1" y="462.2">49</text>
<text x="568.1" y="281.2">45</text>
<text x="589.5" y="461.8">51</text>
<text x="589.5" y="278.0">42</text>
<text x="611.0" y="462.0">50</text>
<text x="611.0" y="274.8">45</text>
<text x="632.4" y="462.7">46</text>
<text x="632.4" y="282.1">46</text>
<text x="653.8" y="463.5">41</text>
<text x="653.8" y="285.3">47</text>
<text x="675.2" y="463.2">43</text>
<text x="675.2" y="280.0">46</text>
<text x="696.6" y="462.8">45</text>
<text x="696.6" y="280.6">47</text>
<text x="718.1" y="463.0">44</text>
<text x="718.1" y="275.6">44</text>
</g>
<text font-size="7.55" fill="#555" text-anchor="middle" font-family="DejaVu Sans, Liberation Sans, sans-serif" transform="translate(736.1,348.5) rotate(90)">Keyword ranking distribution</text>
</svg>
<div class="ctitle">Keyword ranking distribution</div>
<div class="btns"><div class="b1"></div><span style="left:0;width:45.3px">iPhone</span><span style="left:45.3px;width:36.3px">iPad</span></div>
<div class="dline2"></div><div class="dline"></div>
<span class="date" style="left:632.4px">01.01.2022</span><span class="date" style="left:678px;width:7.2px;overflow:hidden;color:#999;-webkit-text-stroke:.3px #999">—</span><span class="date" style="left:689px">31.01.2022</span>
<svg class="cal" viewBox="0 0 11 10.4"><g fill="none" stroke="#5666c9" stroke-width=".9"><rect x=".75" y="1.9" width="9.3" height="7.7" rx=".8"/><path d="M3.1 0V2.6M7.7 0V2.6" stroke-width="1.1"/></g><g fill="#4a5bc4"><rect x="2.3" y="4" width="1.3" height="1.2"/><rect x="4.75" y="4" width="1.3" height="1.2"/><rect x="7.2" y="4" width="1.3" height="1.2"/><rect x="2.3" y="6.2" width="1.3" height="1.7"/><rect x="4.75" y="6.2" width="1.3" height="1.7"/></g></svg>
<span class="dot" style="left:195.9px;background:#5cc05c"></span><span class="lt" style="left:208.8px">Top 1</span><span class="q" style="left:234.4px">?</span>
<span class="dot" style="left:254.7px;background:#a6dc55"></span><span class="lt" style="left:267.3px">Top 2<i>–</i>5</span><span class="q" style="left:301.6px">?</span>
<span class="dot" style="left:321.9px;background:#d8c655"></span><span class="lt" style="left:334.5px">Top 6<i>–</i>10</span><span class="q" style="left:374.1px">?</span>
<span class="dot" style="left:394.5px;background:#efc653"></span><span class="lt" style="left:407.0px">Top 11<i>–</i>20</span><span class="q" style="left:451.0px">?</span>
<span class="dot" style="left:471.6px;background:#f69c55"></span><span class="lt" style="left:484.4px">Top 21<i>–</i>50</span><span class="q" style="left:528.4px">?</span>
<span class="dot" style="left:548.7px;background:#c4506c"></span><span class="lt" style="left:561.2px">Top 51<i>–</i>100</span><span class="q" style="left:610.1px">?</span>
<p class="desc">Keyword Ranking Distribution shows the distribution of the number of keywords<br><span>by positions, allowing you to superficially assess your application visibility.</span></p>
</body></html>
